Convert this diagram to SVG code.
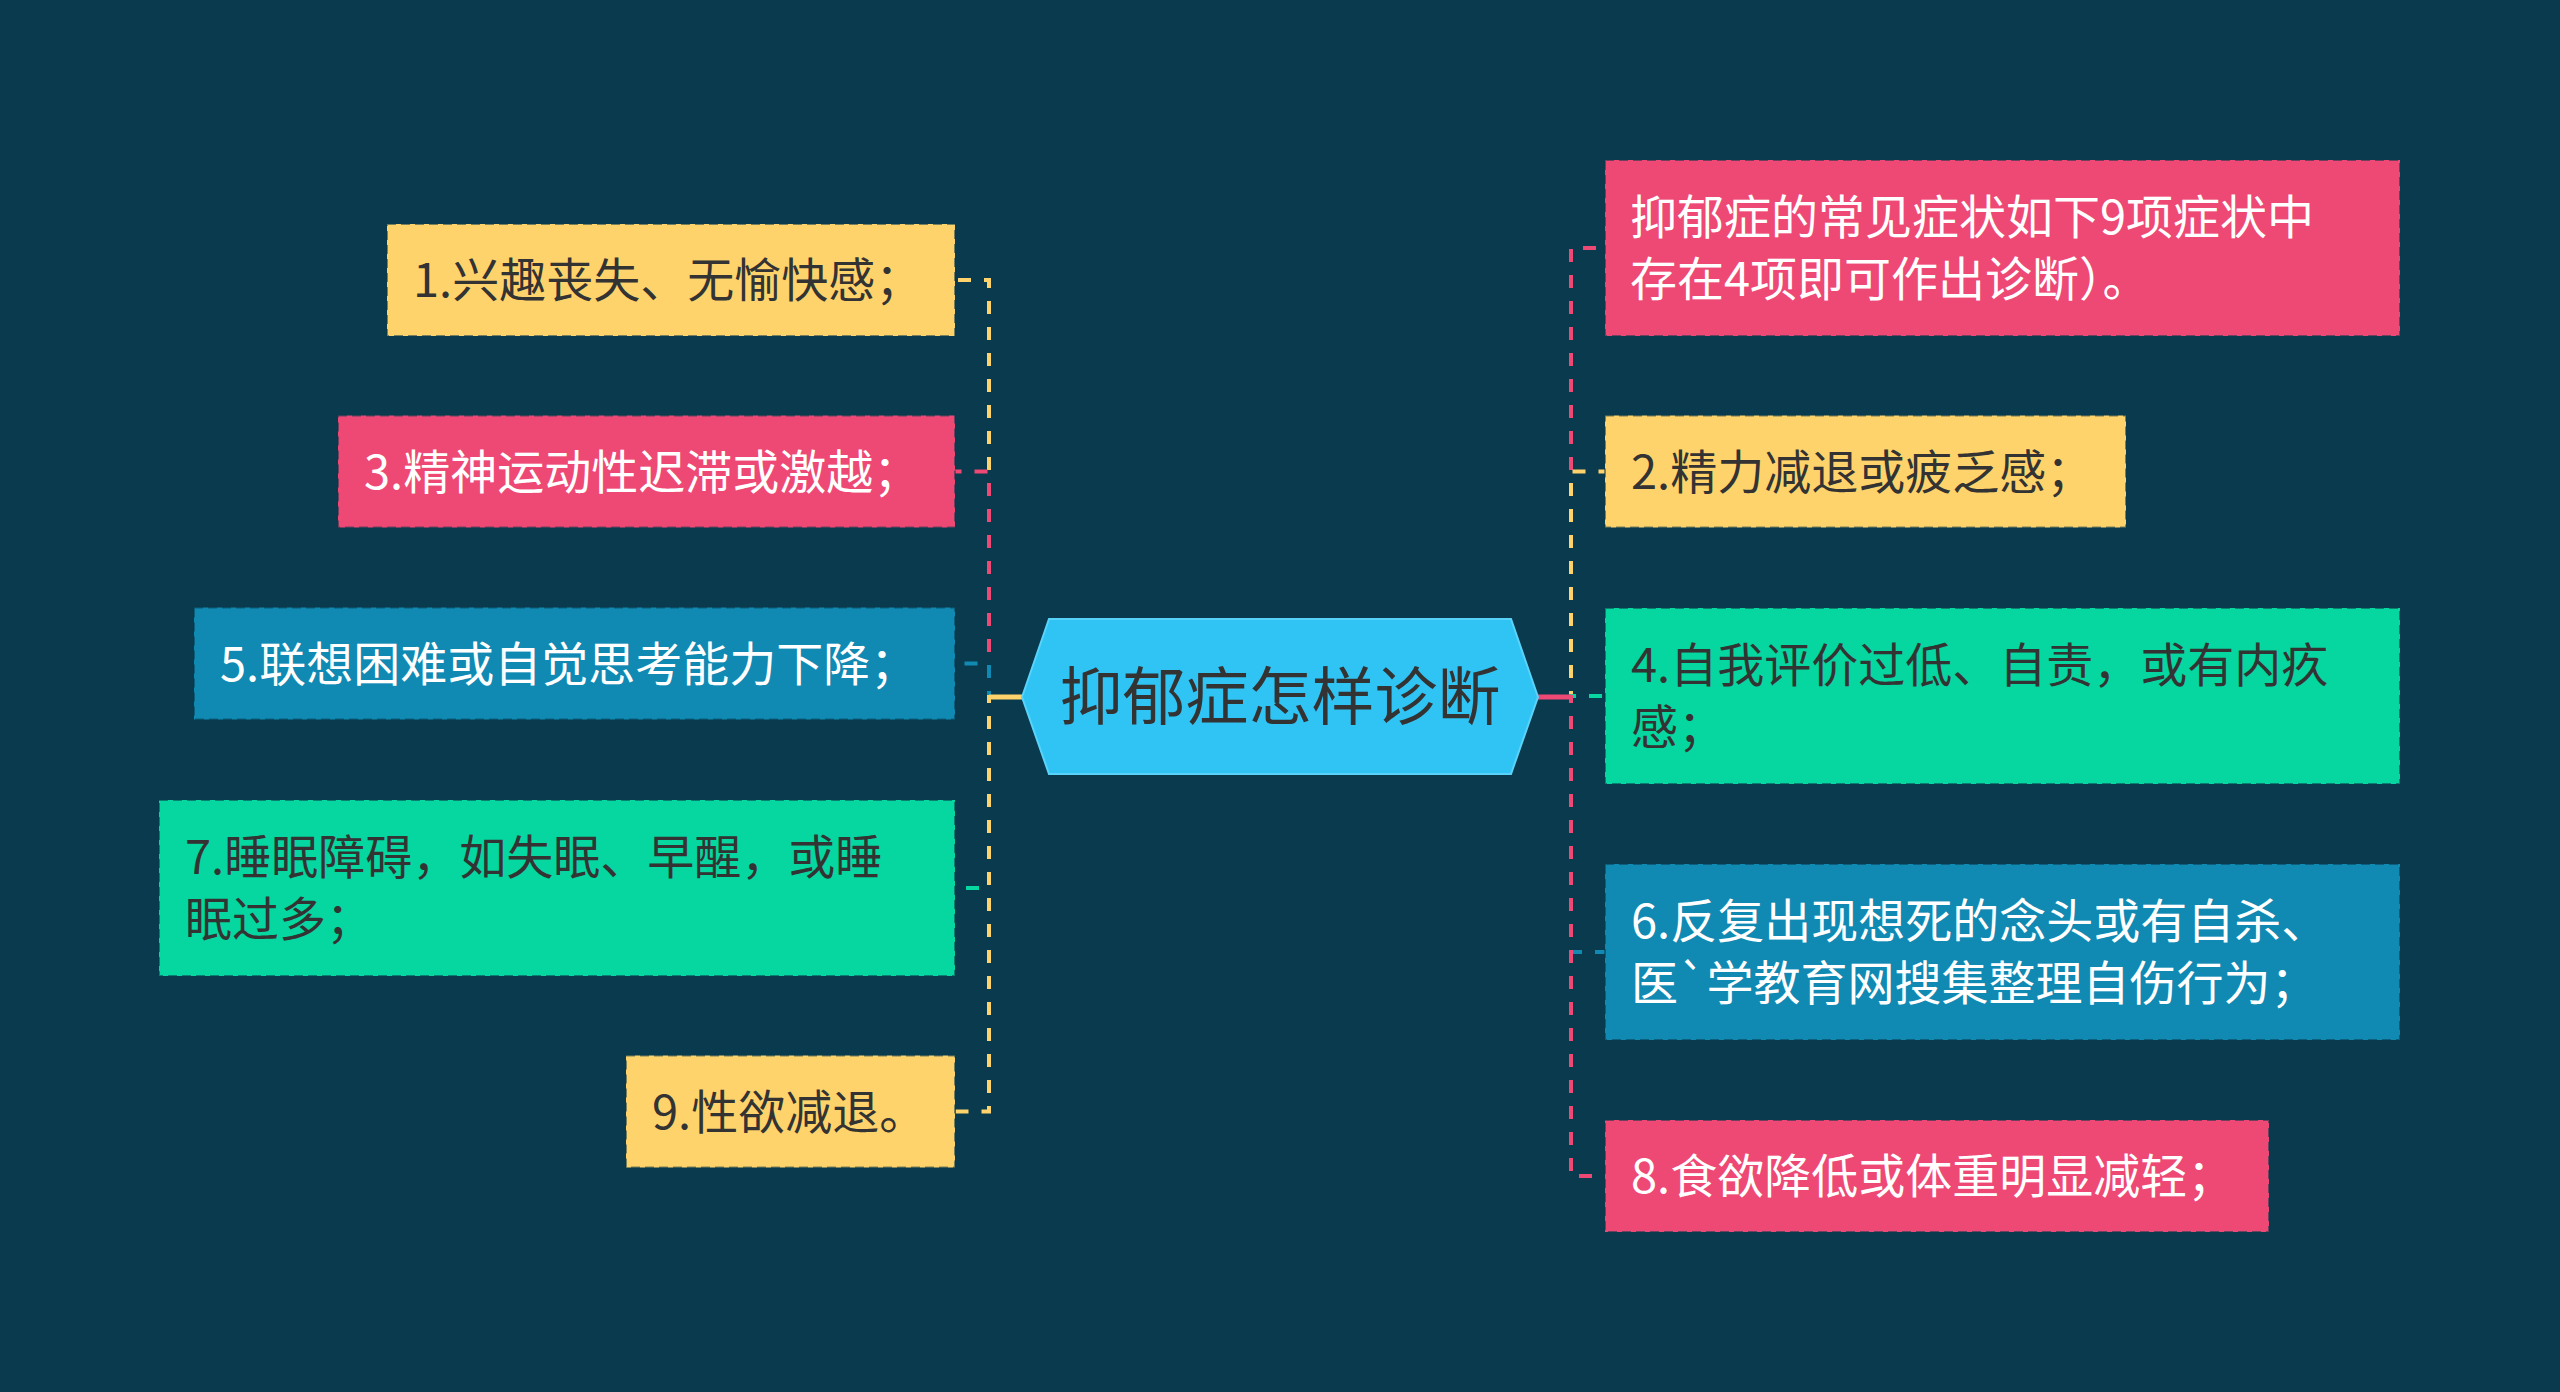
<svg xmlns="http://www.w3.org/2000/svg" width="2560" height="1392" viewBox="0 0 2560 1392">
<style>
.bg{fill:#0A3A4D}
.box{stroke:#0A3A4D;stroke-opacity:0.55;stroke-width:2;stroke-dasharray:9 5}
.y{fill:#FFD36B}.p{fill:#EE4875}.b{fill:#1089B3}.g{fill:#06D6A0}
.t{font-family:"Noto Sans CJK SC","Noto Sans",sans-serif;font-size:47px}
.dk{fill:#333333}.wt{fill:#FFFFFF}
.c{fill:none;stroke-width:4;stroke-dasharray:13 13}
.cy{stroke:#FFD36B}.cp{stroke:#EE4875}.cb{stroke:#1089B3}.cg{stroke:#06D6A0}
</style>
<rect class="bg" x="0" y="0" width="2560" height="1392"/>
<g id="connectors">
<path class="c cy" d="M1022,697 H989 V280 H955"/>
<path class="c cp" d="M1022,697 H989 V471.5 H955"/>
<path class="c cb" d="M1022,697 H989 V663.5 H955"/>
<path class="c cg" d="M1022,697 H989 V888 H955"/>
<path class="c cy" d="M1022,697 H989 V1111.5 H955"/>
<path class="c cp" d="M1538,697 H1571 V248 H1605"/>
<path class="c cy" d="M1538,697 H1571 V471.5 H1605"/>
<path class="c cg" d="M1538,697 H1571 V696 H1605"/>
<path class="c cb" d="M1538,697 H1571 V952 H1605"/>
<path class="c cp" d="M1538,697 H1571 V1176 H1605"/>
<line x1="989" y1="697" x2="1022" y2="697" stroke="#FFD36B" stroke-width="5"/>
<line x1="1538" y1="697" x2="1571" y2="697" stroke="#EE4875" stroke-width="5"/>
</g>
<g id="center">
<polygon points="1022,697 1049,619 1511,619 1538,697 1511,774 1049,774" fill="#30C4F5" stroke="#5AD3FA" stroke-width="2"/>
<text class="dk" x="1280" y="719" text-anchor="middle" font-family="Noto Sans CJK SC, Noto Sans, sans-serif" font-size="63">抑郁症怎样诊断</text>
</g>
<g id="n1">
<rect class="box y" x="387" y="224" width="568" height="112"/>
<text class="t dk" x="413" y="297">1.兴趣丧失、无愉快感；</text>
</g>
<g id="n3">
<rect class="box p" x="338" y="415.5" width="617" height="112"/>
<text class="t wt" x="364" y="488.5">3.精神运动性迟滞或激越；</text>
</g>
<g id="n5">
<rect class="box b" x="194" y="607.5" width="761" height="112"/>
<text class="t wt" x="220" y="680.5">5.联想困难或自觉思考能力下降；</text>
</g>
<g id="n7">
<rect class="box g" x="159" y="800" width="796" height="176"/>
<text class="t dk" x="185" y="874"><tspan x="185" y="874">7.睡眠障碍，如失眠、早醒，或睡</tspan><tspan x="185" y="936">眠过多；</tspan></text>
</g>
<g id="n9">
<rect class="box y" x="626" y="1055.5" width="329" height="112"/>
<text class="t dk" x="652" y="1128.5">9.性欲减退。</text>
</g>
<g id="r1">
<rect class="box p" x="1605" y="160" width="795" height="176"/>
<text class="t wt" x="1630" y="234"><tspan x="1630" y="234">抑郁症的常见症状如下9项症状中</tspan><tspan x="1630" y="296">存在4项即可作出诊断）。</tspan></text>
</g>
<g id="r2">
<rect class="box y" x="1605" y="415.5" width="521" height="112"/>
<text class="t dk" x="1631" y="488.5">2.精力减退或疲乏感；</text>
</g>
<g id="r4">
<rect class="box g" x="1605" y="608" width="795" height="176"/>
<text class="t dk" x="1631" y="682"><tspan x="1631" y="682">4.自我评价过低、自责，或有内疚</tspan><tspan x="1631" y="744">感；</tspan></text>
</g>
<g id="r6">
<rect class="box b" x="1605" y="864" width="795" height="176"/>
<text class="t wt" x="1631" y="938"><tspan x="1631" y="938">6.反复出现想死的念头或有自杀、</tspan><tspan x="1631" y="1000">医`学教育网搜集整理自伤行为；</tspan></text>
</g>
<g id="r8">
<rect class="box p" x="1605" y="1120" width="664" height="112"/>
<text class="t wt" x="1631" y="1193">8.食欲降低或体重明显减轻；</text>
</g>
</svg>
